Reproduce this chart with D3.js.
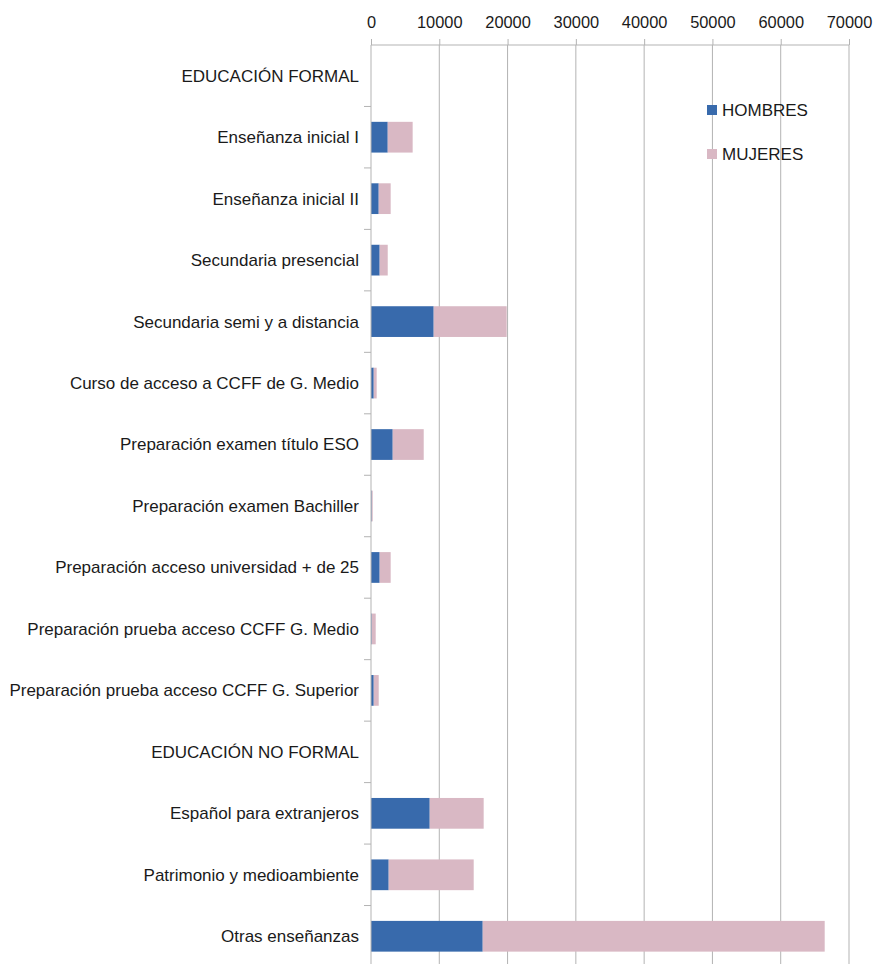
<!DOCTYPE html>
<html>
<head>
<meta charset="utf-8">
<script src="https://cdn.jsdelivr.net/npm/d3@7"></script>
<style>
  body { margin: 0; background: #fff; }
  svg { display: block; font-family: "Liberation Sans", Arial, sans-serif; }
</style>
</head>
<body>
<svg id="chart" width="876" height="964"></svg>
<script>
// categories, top to bottom
var categories = [
  "EDUCACIÓN FORMAL",
  "Enseñanza inicial I",
  "Enseñanza inicial II",
  "Secundaria presencial",
  "Secundaria semi y a distancia",
  "Curso de acceso a CCFF de G. Medio",
  "Preparación examen título ESO",
  "Preparación examen Bachiller",
  "Preparación acceso universidad + de 25",
  "Preparación prueba acceso CCFF G. Medio",
  "Preparación prueba acceso CCFF G. Superior",
  "EDUCACIÓN NO FORMAL",
  "Español para extranjeros",
  "Patrimonio y medioambiente",
  "Otras enseñanzas"
];
var hombres = [0, 2450, 1130, 1270, 9180, 400, 3180, 100, 1270, 100, 400, 0, 8600, 2590, 16360];
var mujeres = [0, 3650, 1750, 1180, 10690, 430, 4540, 150, 1610, 590, 730, 0, 7900, 12450, 50080];
var seriesNames = ["HOMBRES", "MUJERES"];
var seriesColors = ["#386aac", "#d9b8c4"];
var xTicks = [0, 10000, 20000, 30000, 40000, 50000, 60000, 70000];

var svg = d3.select("#chart");
// "top" is reserved on window, so use plot* names
var plotLeft = 371, plotRight = 849, plotTop = 45, plotBottom = 967;

var x = d3.scaleLinear().domain([0, 70000]).range([plotLeft, plotRight]);
var y = d3.scaleBand().domain(categories).range([plotTop, plotBottom]).paddingInner(0.5).paddingOuter(0.25);
var yb = d3.scaleBand().domain(categories).range([plotTop, plotBottom]);

// vertical grid lines
svg.append("g").selectAll("line")
    .data(xTicks.slice(1))
  .enter().append("line")
    .attr("x1", function(d){ return x(d); })
    .attr("x2", function(d){ return x(d); })
    .attr("y1", plotTop)
    .attr("y2", plotBottom)
    .attr("stroke", "#b3b3b3")
    .attr("stroke-width", 1);

// top axis
var xAxis = d3.axisTop(x).tickValues(xTicks).tickSize(6).tickPadding(11).tickFormat(d3.format("d"));
var gx = svg.append("g").attr("transform", "translate(0," + plotTop + ")").call(xAxis);
gx.select(".domain").attr("stroke", "#b3b3b3").attr("d", "M" + plotLeft + ",0H" + plotRight);
gx.selectAll(".tick line").attr("stroke", "#b3b3b3");
gx.selectAll(".tick text").attr("fill", "#1a1a1a").style("font-size", "16.4px");

// stacked bars
var stackData = categories.map(function(c, i){ return { cat: c, HOMBRES: hombres[i], MUJERES: mujeres[i] }; });
var stacked = d3.stack().keys(seriesNames)(stackData);

svg.append("g").selectAll("g")
    .data(stacked)
  .enter().append("g")
    .attr("fill", function(d, i){ return seriesColors[i]; })
  .selectAll("rect")
    .data(function(d){ return d; })
  .enter().append("rect")
    .attr("x", function(d){ return x(d[0]); })
    .attr("y", function(d){ return y(d.data.cat); })
    .attr("width", function(d){ return x(d[1]) - x(d[0]); })
    .attr("height", y.bandwidth());

// left category axis
var gy = svg.append("g").attr("transform", "translate(" + plotLeft + ",0)");
gy.append("line").attr("x1", 0).attr("x2", 0).attr("y1", plotTop).attr("y2", plotBottom)
  .attr("stroke", "#b3b3b3");
gy.selectAll("line.tk")
    .data(categories.slice(1))
  .enter().append("line")
    .attr("class", "tk")
    .attr("x1", -7).attr("x2", 0)
    .attr("y1", function(d){ return yb(d); })
    .attr("y2", function(d){ return yb(d); })
    .attr("stroke", "#b3b3b3");
gy.selectAll("text")
    .data(categories)
  .enter().append("text")
    .attr("x", -12)
    .attr("y", function(d){ return yb(d) + yb.bandwidth() / 2; })
    .attr("dy", "0.35em")
    .attr("text-anchor", "end")
    .attr("fill", "#1a1a1a")
    .style("font-size", "17px")
    .text(function(d){ return d; });

// legend
var legend = svg.append("g").selectAll("g")
    .data(seriesNames)
  .enter().append("g")
    .attr("transform", function(d, i){ return "translate(707," + (105 + i * 44) + ")"; });
legend.append("rect").attr("width", 10).attr("height", 10)
  .attr("fill", function(d, i){ return seriesColors[i]; });
legend.append("text").attr("x", 15).attr("y", 5).attr("dy", "0.35em")
  .attr("fill", "#1a1a1a").style("font-size", "17px")
  .text(function(d){ return d; });
</script>
</body>
</html>
